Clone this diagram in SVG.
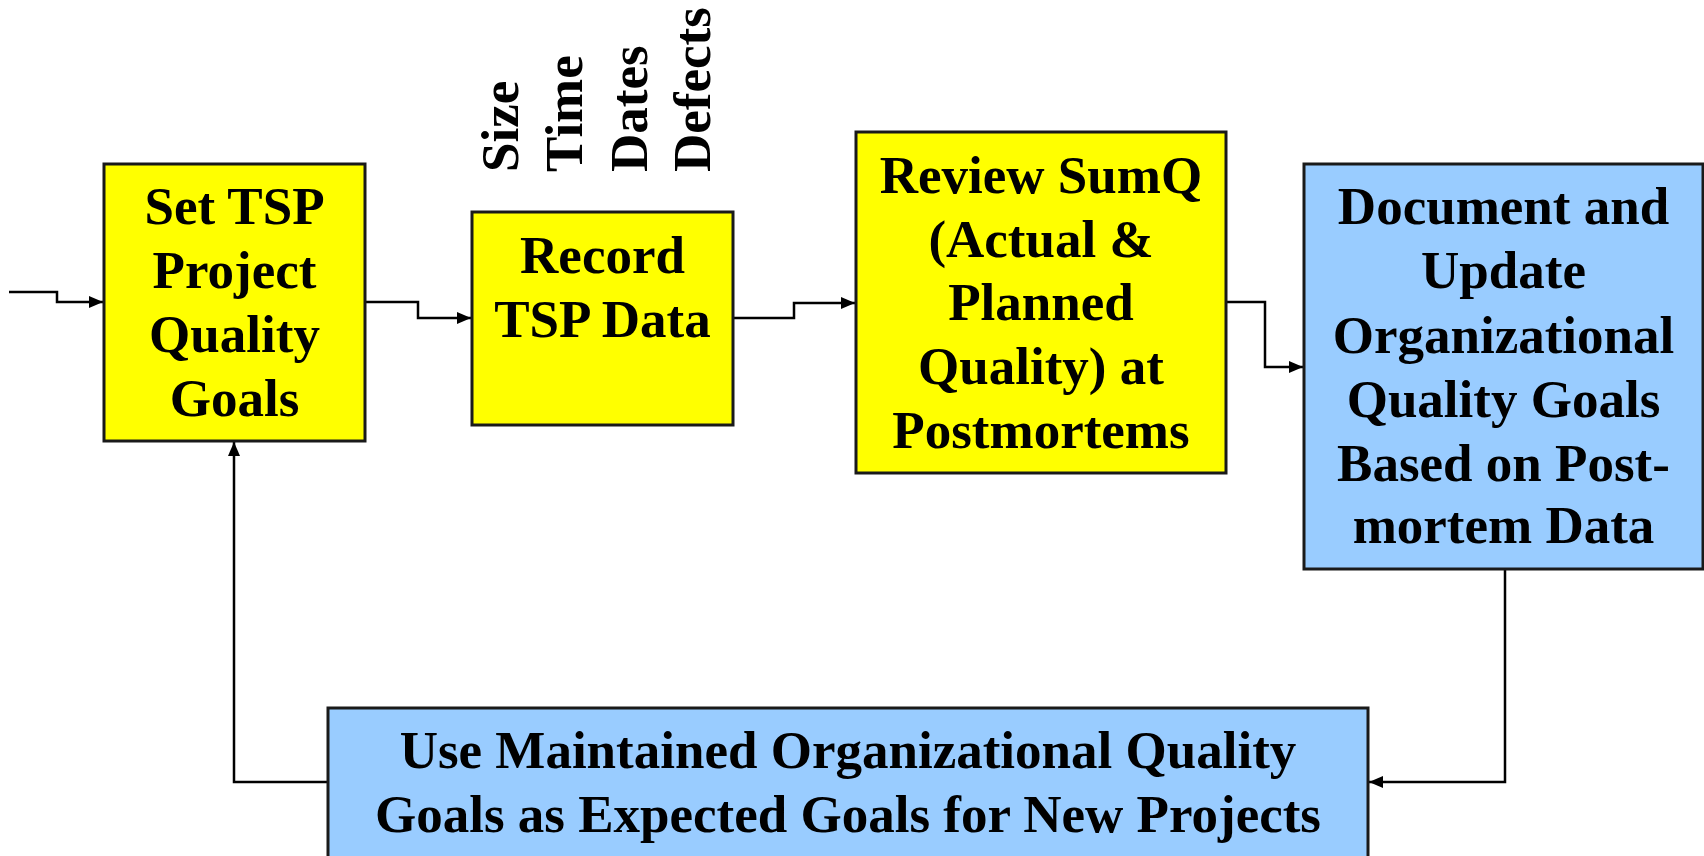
<svg xmlns="http://www.w3.org/2000/svg" width="1704" height="856" viewBox="0 0 1704 856">
  <style>
    .box { stroke: #1a1a1a; stroke-width: 3; }
    .yellow { fill: #ffff00; }
    .blue { fill: #99ccff; }
    .label { font-family: "Liberation Serif", "Times New Roman", serif; font-weight: bold; font-size: 53px; fill: #000; text-anchor: middle; }
    .vlabel { font-family: "Liberation Serif", "Times New Roman", serif; font-weight: bold; font-size: 53px; fill: #000; }
    .conn { fill: none; stroke: #000; stroke-width: 2.5; }
  </style>
  <defs>
    <marker id="arrow" viewBox="0 0 14 12" refX="14" refY="6" markerWidth="14" markerHeight="12" markerUnits="userSpaceOnUse" orient="auto">
      <path d="M0,0 L14,6 L0,12 Z" fill="#000"/>
    </marker>
  </defs>

  <rect width="1704" height="856" fill="#fff"/>

  <!-- connectors -->
  <g id="connectors">
    <path class="conn" d="M9,292 H57 V302 H103" marker-end="url(#arrow)"/>
    <path class="conn" d="M365,302 H418 V318 H471" marker-end="url(#arrow)"/>
    <path class="conn" d="M733,318 H794 V303 H855" marker-end="url(#arrow)"/>
    <path class="conn" d="M1226,302 H1265 V367 H1303" marker-end="url(#arrow)"/>
    <path class="conn" d="M1505,569 V782 H1369" marker-end="url(#arrow)"/>
    <path class="conn" d="M328,782 H234 V442" marker-end="url(#arrow)"/>
  </g>

  <!-- data items recorded -->
  <g id="data-labels">
    <text class="vlabel" transform="translate(518,172) rotate(-90)">Size</text>
    <text class="vlabel" transform="translate(582,172) rotate(-90)">Time</text>
    <text class="vlabel" transform="translate(647,172) rotate(-90)">Dates</text>
    <text class="vlabel" transform="translate(710,172) rotate(-90)">Defects</text>
  </g>

  <g id="set-goals">
    <rect class="box yellow" x="104" y="164" width="261" height="277"/>
    <text class="label" x="234.5" y="224">Set TSP</text>
    <text class="label" x="234.5" y="288">Project</text>
    <text class="label" x="234.5" y="352">Quality</text>
    <text class="label" x="234.5" y="416">Goals</text>
  </g>

  <g id="record-data">
    <rect class="box yellow" x="472" y="212" width="261" height="213"/>
    <text class="label" x="602.5" y="273">Record</text>
    <text class="label" x="602.5" y="337">TSP Data</text>
  </g>

  <g id="review-sumq">
    <rect class="box yellow" x="856" y="132" width="370" height="341"/>
    <text class="label" x="1041" y="193">Review SumQ</text>
    <text class="label" x="1041" y="257">(Actual &amp;</text>
    <text class="label" x="1041" y="320">Planned</text>
    <text class="label" x="1041" y="384">Quality) at</text>
    <text class="label" x="1041" y="448">Postmortems</text>
  </g>

  <g id="update-goals">
    <rect class="box blue" x="1304" y="164" width="399" height="405"/>
    <text class="label" x="1503.5" y="224">Document and</text>
    <text class="label" x="1503.5" y="288">Update</text>
    <text class="label" x="1503.5" y="353">Organizational</text>
    <text class="label" x="1503.5" y="417">Quality Goals</text>
    <text class="label" x="1503.5" y="481">Based on Post-</text>
    <text class="label" x="1503.5" y="543">mortem Data</text>
  </g>

  <g id="use-goals">
    <rect class="box blue" x="328" y="708" width="1040" height="170"/>
    <text class="label" x="848" y="768">Use Maintained Organizational Quality</text>
    <text class="label" x="848" y="832">Goals as Expected Goals for New Projects</text>
  </g>
</svg>
